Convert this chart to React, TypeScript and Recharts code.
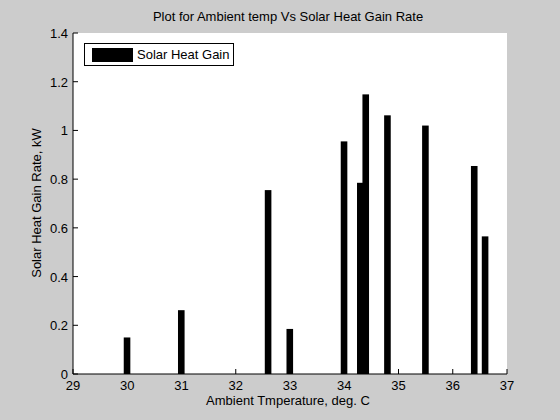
import React from "react";
import {
  ComposedChart,
  Bar,
  XAxis,
  YAxis,
  CartesianGrid,
  Legend,
} from "recharts";

const temperatures = [30, 31, 32.6, 33, 34, 34.3, 34.4, 34.8, 35.5, 36.4, 36.6];
const heatGain = [0.15, 0.262, 0.755, 0.185, 0.955, 0.785, 1.148, 1.062, 1.02, 0.854, 0.565];
const xTicks = [29, 30, 31, 32, 33, 34, 35, 36, 37];
const yTicks = [0, 0.2, 0.4, 0.6, 0.8, 1, 1.2, 1.4];

const data = temperatures.map((t, i) => ({ temp: t, gain: heatGain[i] }));

const FONT = "'Liberation Sans', Arial, sans-serif";
const TICK_LEN = 5;

const BottomTick = (props: any) => {
  const { x, y, payload } = props;
  return (
    <g>
      <line x1={x} y1={y} x2={x} y2={y - TICK_LEN} stroke="#000" strokeWidth={1} />
      <text x={x} y={y + 16} textAnchor="middle" fontSize={13} fontFamily={FONT} fill="#000">
        {String(payload.value)}
      </text>
    </g>
  );
};

const TopTick = (props: any) => {
  const { x, y } = props;
  return <line x1={x} y1={y} x2={x} y2={y + TICK_LEN} stroke="#000" strokeWidth={1} />;
};

const LeftTick = (props: any) => {
  const { x, y, payload } = props;
  return (
    <g>
      <line x1={x} y1={y} x2={x + TICK_LEN} y2={y} stroke="#000" strokeWidth={1} />
      <text x={x - 5} y={y + 5} textAnchor="end" fontSize={13} fontFamily={FONT} fill="#000">
        {String(payload.value)}
      </text>
    </g>
  );
};

const RightTick = (props: any) => {
  const { x, y } = props;
  return <line x1={x} y1={y} x2={x - TICK_LEN} y2={y} stroke="#000" strokeWidth={1} />;
};

const BarShape = (props: any) => {
  const { x, y, width, height } = props;
  const w = 6.6;
  const cx = x + width / 2;
  return <rect x={cx - w / 2} y={y} width={w} height={height} fill="#000" />;
};

const LegendBox = () => (
  <div
    style={{
      position: "absolute",
      left: 84,
      top: 43,
      width: 150,
      height: 23,
      boxSizing: "border-box",
      border: "1px solid #000",
      background: "#fff",
      display: "flex",
      alignItems: "center",
      fontFamily: FONT,
      fontSize: 13,
      color: "#000",
    }}
  >
    <span
      style={{
        display: "inline-block",
        width: 41,
        height: 14,
        background: "#000",
        marginLeft: 7,
        marginRight: 4,
      }}
    />
    <span>Solar Heat Gain</span>
  </div>
);

export default function App() {
  return (
    <div
      style={{
        position: "absolute",
        left: 0,
        top: 0,
        width: 560,
        height: 420,
        background: "#cccccc",
        fontFamily: FONT,
      }}
    >
      <div
        style={{
          position: "absolute",
          left: 0,
          width: 560,
          top: 9,
          textAlign: "center",
          paddingLeft: 16,
          boxSizing: "border-box",
          fontSize: 13,
          color: "#000",
        }}
      >
        Plot for Ambient temp Vs Solar Heat Gain Rate
      </div>
      <div
        style={{
          position: "absolute",
          left: 0,
          width: 560,
          top: 393,
          textAlign: "center",
          paddingLeft: 16,
          boxSizing: "border-box",
          fontSize: 13,
          color: "#000",
        }}
      >
        Ambient Tmperature, deg. C
      </div>
      <div
        style={{
          position: "absolute",
          left: 36,
          top: 203,
          transform: "translate(-50%, -50%) rotate(-90deg)",
          whiteSpace: "nowrap",
          fontSize: 13,
          color: "#000",
        }}
      >
        Solar Heat Gain Rate, kW
      </div>
      <ComposedChart
        width={560}
        height={420}
        data={data}
        margin={{ top: 33, right: 53, bottom: 0, left: 23 }}
        style={{ position: "absolute", left: 0, top: 0 }}
      >
        <CartesianGrid fill="#ffffff" horizontal={false} vertical={false} />
        <XAxis
          xAxisId="bottom"
          dataKey="temp"
          type="number"
          domain={[29, 37]}
          ticks={xTicks}
          allowDataOverflow
          orientation="bottom"
          height={46}
          tickSize={0}
          tickMargin={0}
          axisLine={{ stroke: "#000" }}
          tick={<BottomTick />}
          interval={0}
        />
        <XAxis
          xAxisId="top"
          dataKey="temp"
          type="number"
          domain={[29, 37]}
          ticks={xTicks}
          allowDataOverflow
          orientation="top"
          height={0}
          tickSize={0}
          tickMargin={0}
          axisLine={{ stroke: "#000" }}
          tick={<TopTick />}
          interval={0}
        />
        <YAxis
          yAxisId="left"
          type="number"
          domain={[0, 1.4]}
          ticks={yTicks}
          allowDataOverflow
          orientation="left"
          width={50}
          tickSize={0}
          tickMargin={0}
          axisLine={{ stroke: "#000" }}
          tick={<LeftTick />}
          interval={0}
        />
        <YAxis
          yAxisId="right"
          type="number"
          domain={[0, 1.4]}
          ticks={yTicks}
          allowDataOverflow
          orientation="right"
          width={0}
          tickSize={0}
          tickMargin={0}
          axisLine={{ stroke: "#000" }}
          tick={<RightTick />}
          interval={0}
        />
        <Bar
          xAxisId="bottom"
          yAxisId="left"
          dataKey="gain"
          name="Solar Heat Gain"
          fill="#000"
          barSize={5}
          shape={<BarShape />}
          isAnimationActive={false}
        />
        <Legend content={() => <LegendBox />} wrapperStyle={{ position: "absolute", left: 0, top: 0, width: 0, height: 0 }} />
      </ComposedChart>
    </div>
  );
}
